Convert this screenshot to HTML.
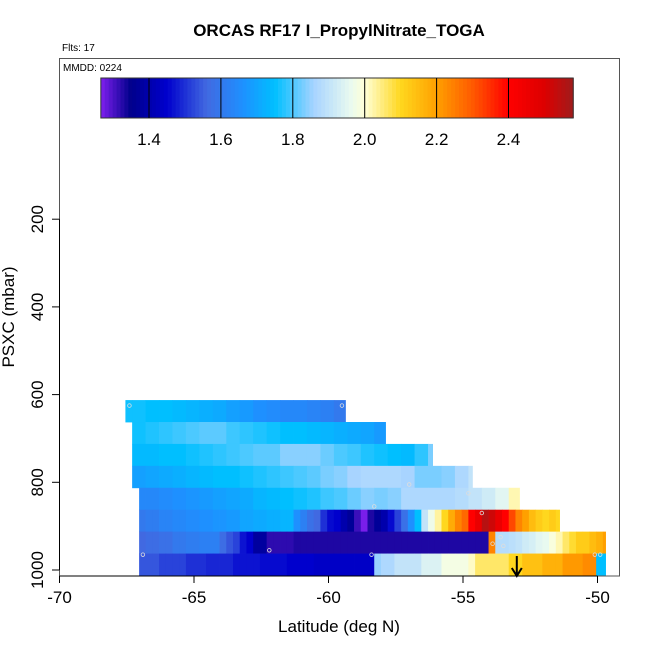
<!DOCTYPE html>
<html><head><meta charset="utf-8"><style>
body{margin:0;background:#fff}
svg text{font-family:"Liberation Sans",sans-serif}
</style></head><body>
<svg id="chart" width="650" height="650" viewBox="0 0 650 650" xmlns="http://www.w3.org/2000/svg">
<rect width="650" height="650" fill="#fff"/>
<text x="339" y="36" font-size="17" font-weight="bold" text-anchor="middle">ORCAS RF17 I_PropylNitrate_TOGA</text>
<text x="62" y="51" font-size="10">Flts: 17</text>
<g id="cells"></g>
<g id="marks"></g>
<rect x="59.5" y="58.5" width="560" height="517.5" fill="none" stroke="#555" stroke-width="1"/>
<text x="63" y="71" font-size="10">MMDD: 0224</text>
<g id="cbar"></g>
<g id="axes"></g>
<text x="339" y="632" font-size="17" text-anchor="middle">Latitude (deg N)</text>
<text transform="translate(14,317) rotate(-90)" font-size="17" text-anchor="middle">PSXC (mbar)</text>
</svg>
<script>
const xTicks=[-70,-65,-60,-55,-50];
const yTicks=[200,400,600,800,1000];
const cbTicks=[1.4,1.6,1.8,2.0,2.2,2.4];
const rowPressure=[637.5,687.5,737.5,787.5,837.5,887.5,937.5,987.5];
const rowLatStart=[-67.55,-67.3,-67.3,-67.3,-67.04,-67.04,-67.04,-67.04];
const rowLatEnd=[-59.37,-57.88,-56.13,-54.65,-52.9,-51.41,-49.7,-49.7];
const rowStep=[0.5,0.5,0.5,0.5,0.5,0.25,0.25,0.25];
const row1=[1.76,1.76,1.75,1.75,1.74,1.73,1.72,1.71,1.69,1.68,1.66,1.65,1.64,1.64,1.63,1.62,1.60];
const row2=[1.76,1.77,1.78,1.79,1.80,1.81,1.81,1.79,1.78,1.77,1.76,1.75,1.75,1.74,1.73,1.72,1.71,1.70,1.68];
const row3=[1.74,1.74,1.75,1.75,1.76,1.77,1.78,1.79,1.80,1.81,1.81,1.84,1.84,1.84,1.82,1.80,1.79,1.77,1.76,1.75,1.74,1.78,1.83];
const row4=[1.69,1.70,1.71,1.72,1.73,1.74,1.75,1.75,1.76,1.77,1.78,1.79,1.80,1.81,1.83,1.84,1.86,1.87,1.87,1.87,1.86,1.83,1.83,1.84,1.87,1.90];
const row5=[1.64,1.64,1.65,1.66,1.67,1.68,1.69,1.70,1.71,1.73,1.74,1.75,1.76,1.77,1.79,1.80,1.82,1.84,1.83,1.84,1.87,1.87,1.87,1.87,1.88,1.90,1.92,1.95,2.02];
const row6=[1.60,1.61,1.61,1.63,1.63,1.64,1.64,1.65,1.65,1.66,1.66,1.67,1.67,1.68,1.68,1.70,1.70,1.71,1.71,1.72,1.72,1.73,1.73,1.66,1.62,1.58,1.56,1.50,1.46,1.45,1.40,1.37,1.31,1.27,1.33,1.37,1.40,1.46,1.52,1.58,1.66,1.75,1.90,1.97,2.03,2.10,2.18,2.24,2.28,2.40,2.46,2.55,2.52,2.46,2.40,2.32,2.24,2.20,2.15,2.12,2.10,2.12,2.10];
const row7=[1.56,1.57,1.57,1.58,1.58,1.60,1.60,1.61,1.61,1.62,1.62,1.62,1.57,1.54,1.52,1.47,1.45,1.38,1.38,1.32,1.32,1.32,1.32,1.33,1.33,1.33,1.33,1.33,1.33,1.33,1.33,1.33,1.33,1.33,1.33,1.33,1.33,1.33,1.33,1.33,1.33,1.33,1.33,1.33,1.33,1.33,1.33,1.33,1.33,1.33,1.33,1.33,2.24,1.88,1.88,1.89,1.90,1.92,1.93,1.95,1.96,1.99,2.02,2.06,2.09,2.12,2.12,2.15,2.17,2.20];
const row8=[1.54,1.54,1.54,1.52,1.52,1.52,1.52,1.50,1.50,1.50,1.49,1.49,1.49,1.49,1.47,1.47,1.47,1.47,1.46,1.46,1.46,1.46,1.45,1.45,1.45,1.45,1.44,1.44,1.44,1.44,1.44,1.44,1.44,1.44,1.44,1.85,1.87,1.87,1.90,1.90,1.90,1.90,1.94,1.94,1.94,1.98,1.98,1.98,1.98,2.01,2.06,2.06,2.06,2.06,2.06,2.10,2.10,2.14,2.14,2.14,2.17,2.17,2.17,2.21,2.21,2.21,2.23,2.23,1.75,1.75];
const rows=[row1,row2,row3,row4,row5,row6,row7,row8];
const markLat=[-67.4,-59.5,-57.0,-54.8,-58.3,-54.3,-62.2,-53.9,-66.9,-58.4,-53.6,-53.5,-50.1,-49.9];
const markP=[625,625,805,825,855,870,955,940,965,965,925,945,965,965];

const NS='http://www.w3.org/2000/svg';
const gridBase=-67.3, binH=50;
const xS=v=>59.5+(v+70)*26.9;
const yS=p=>482.3+(p-800)*0.4385;
const cbX=v=>149+(v-1.4)*359.5;
const stops=[[1.266,[127,31,239]],[1.35,[0,0,139]],[1.45,[0,0,205]],[1.56,[65,105,225]],[1.66,[30,144,255]],[1.75,[0,191,255]],[1.86,[168,212,255]],[1.96,[232,250,240]],[2.0,[255,255,215]],[2.1,[255,215,30]],[2.2,[255,160,0]],[2.3,[255,90,0]],[2.4,[255,0,0]],[2.5,[220,0,0]],[2.58,[160,28,28]]];
function col(v){
  if(v<=stops[0][0])return 'rgb('+stops[0][1]+')';
  for(let i=1;i<stops.length;i++){if(v<=stops[i][0]){const a=stops[i-1],b=stops[i],t=(v-a[0])/(b[0]-a[0]);return 'rgb('+a[1].map((c,k)=>Math.round(c+(b[1][k]-c)*t)).join(',')+')';}}
  return 'rgb('+stops[stops.length-1][1]+')';
}
function mk(tag,attrs,parent){const e=document.createElementNS(NS,tag);for(const k in attrs)e.setAttribute(k,attrs[k]);parent.appendChild(e);return e;}

const cells=document.getElementById('cells');
rows.forEach((vals,r)=>{
  const st=rowStep[r];
  const first=Math.floor((rowLatStart[r]-gridBase)/st);
  const y0=yS(rowPressure[r]-binH/2), y1=yS(rowPressure[r]+binH/2);
  vals.forEach((v,i)=>{
    const b=gridBase+st*(first+i);
    const l0=Math.max(rowLatStart[r],b), l1=Math.min(rowLatEnd[r],b+st);
    if(l1<=l0)return;
    const e=mk('rect',{x:xS(l0).toFixed(2),y:y0.toFixed(2),width:(xS(l1)-xS(l0)+0.4).toFixed(2),height:(y1-y0+0.4).toFixed(2),fill:col(v)},cells);
    
    
  });
});
const marks=document.getElementById('marks');
markLat.forEach((la,i)=>{
  const c=mk('circle',{cx:xS(la),cy:yS(markP[i]),r:1.8,fill:'none',stroke:'#ddd','stroke-width':0.8},marks);
  
  
});
// arrow
const ar=mk('path',{d:'M'+xS(-53.0)+' 556 V575 M'+(xS(-53.0)-5)+' 568 L'+xS(-53.0)+' 576 L'+(xS(-53.0)+5)+' 568',stroke:'#000','stroke-width':2,fill:'none'},marks);



// colorbar
const cb=document.getElementById('cbar');
const cbL=cbX(1.266), cbR=cbX(2.58), N=120;
for(let i=0;i<N;i++){
  const v=1.266+(2.58-1.266)*(i+0.5)/N;
  const x0=cbL+(cbR-cbL)*i/N;
  const e=mk('rect',{x:x0.toFixed(2),y:78,width:((cbR-cbL)/N+0.5).toFixed(2),height:40,fill:col(v)},cb);
  
  
}
mk('rect',{x:cbL,y:78,width:cbR-cbL,height:40,fill:'none',stroke:'#333','stroke-width':1},cb);
cbTicks.forEach(t=>{
  const l=mk('line',{x1:cbX(t),x2:cbX(t),y1:78,y2:118,stroke:'#000','stroke-width':1},cb);
  
  
  const tx=mk('text',{x:cbX(t),y:145,'font-size':17,'text-anchor':'middle'},cb);
  tx.textContent=t.toFixed(1);
  
  
});
// axes
const ax=document.getElementById('axes');
mk('line',{x1:xS(-70),x2:xS(-50),y1:576,y2:576,stroke:'#000','stroke-width':1},ax);
xTicks.forEach(t=>{
  mk('line',{x1:xS(t),x2:xS(t),y1:576,y2:583,stroke:'#000'},ax);
  const tx=mk('text',{x:xS(t),y:603,'font-size':17,'text-anchor':'middle'},ax);
  tx.textContent=t;
  
  
});
mk('line',{x1:59.5,x2:59.5,y1:yS(200),y2:yS(1000),stroke:'#000'},ax);
yTicks.forEach(t=>{
  mk('line',{x1:52,x2:59.5,y1:yS(t),y2:yS(t),stroke:'#000'},ax);
  const tx=mk('text',{transform:'translate(43,'+yS(t)+') rotate(-90)','font-size':17,'text-anchor':'middle'},ax);
  tx.textContent=t;
  
  
});
</script>
</body></html>
